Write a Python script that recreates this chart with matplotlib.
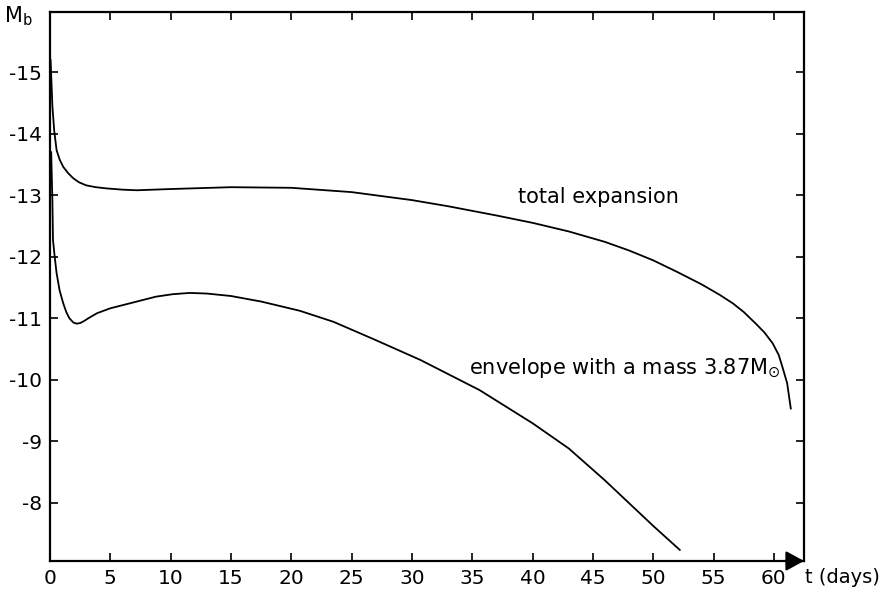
import numpy as np
import matplotlib
matplotlib.use('Agg')
import matplotlib.pyplot as plt

# light curves (t in days, bolometric magnitude)
t_total = [0.05, 0.2, 0.35, 0.55, 0.8, 1.1, 1.5, 1.9, 2.4, 3.0, 3.8, 4.7, 6.0, 7.2,
           10, 15, 20, 25, 30, 33, 37, 40, 43, 46, 48, 50, 52, 54, 55.5, 56.6,
           57.5, 58.5, 59.2, 59.9, 60.4, 60.7, 61.1, 61.4]
m_total = [-15.2, -14.45, -14.05, -13.73, -13.58, -13.46, -13.36, -13.28, -13.21,
           -13.16, -13.13, -13.11, -13.09, -13.08, -13.10, -13.13, -13.12, -13.05,
           -12.92, -12.82, -12.67, -12.55, -12.41, -12.24, -12.10, -11.94, -11.75,
           -11.55, -11.38, -11.24, -11.10, -10.91, -10.77, -10.59, -10.40, -10.21,
           -9.94, -9.53]

t_env = [0.1, 0.2, 0.25, 0.4, 0.55, 0.8, 1.1, 1.35, 1.6, 1.93, 2.2, 2.5, 2.8, 3.2,
         3.9, 5, 6.6, 8.8, 10.2, 11.6, 13, 15, 17.5, 20.7, 23.5, 26.8, 30.7, 35.6,
         40, 43, 46, 50, 52.2]
m_env = [-13.7, -12.9, -12.27, -11.98, -11.73, -11.45, -11.24, -11.1, -11.0, -10.93,
         -10.91, -10.92, -10.95, -11.0, -11.08, -11.16, -11.24, -11.35, -11.39,
         -11.41, -11.40, -11.36, -11.27, -11.12, -10.94, -10.66, -10.32, -9.83,
         -9.29, -8.88, -8.36, -7.62, -7.23]

x_ticks = list(range(0, 61, 5))
y_ticks = [-8, -9, -10, -11, -12, -13, -14, -15]

plt.rcParams['axes.unicode_minus'] = False
plt.rcParams['font.family'] = 'DejaVu Sans'

fig = plt.figure(figsize=(8.83, 5.90), dpi=100)
ax = fig.add_axes([0.0566, 0.0492, 0.854, 0.9305])

ax.plot(t_total, m_total, color='black', lw=1.3)
ax.plot(t_env, m_env, color='black', lw=1.3)

ax.set_xlim(0, 62.5)
ax.set_ylim(-7.05, -15.98)
ax.set_xticks(x_ticks)
ax.set_yticks(y_ticks)
ax.set_yticklabels([str(v) for v in y_ticks])
ax.tick_params(direction='in', length=6, width=1.2, top=True, right=True,
               labelsize=14.5, pad=6)
for s in ax.spines.values():
    s.set_linewidth(1.6)

ax.text(38.8, -12.97, 'total expansion', fontsize=15, va='center', ha='left')
ax.text(34.7, -10.19, r'envelope with a mass 3.87M$_{\odot}$', fontsize=15,
        va='center', ha='left')

# arrow head at the end of the time axis
ax.annotate('', xy=(1.0, 0.0), xytext=(0.975, 0.0), xycoords='axes fraction',
            arrowprops=dict(arrowstyle='-|>,head_length=0.55,head_width=0.3',
                            color='black', lw=1.6, mutation_scale=20,
                            shrinkA=0, shrinkB=0))

fig.text(0.004, 0.972, r'M$_\mathrm{b}$', fontsize=15, va='center', ha='left')
fig.text(0.912, 0.022, 't (days)', fontsize=14, va='center', ha='left')

fig.savefig('out.png', dpi=100)
